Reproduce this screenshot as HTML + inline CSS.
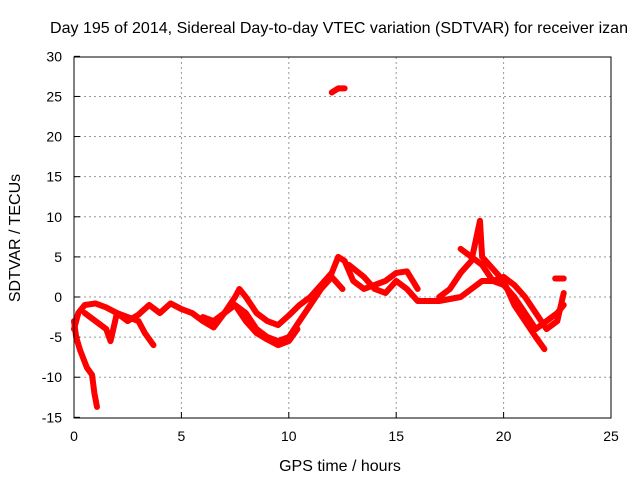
<!DOCTYPE html>
<html><head><meta charset="utf-8"><style>
body{margin:0;background:#fff;}
svg text{font-family:"Liberation Sans",sans-serif;fill:#000;}
</style></head><body>
<svg id="chart" width="640" height="480">
<rect width="640" height="480" fill="#fff"/>
<text x="339" y="33" font-size="16" text-anchor="middle" textLength="578" lengthAdjust="spacingAndGlyphs">Day 195 of 2014, Sidereal Day-to-day VTEC variation (SDTVAR) for receiver izan</text>
<text x="340" y="471" font-size="16" text-anchor="middle">GPS time / hours</text>
<text transform="translate(20,238) rotate(-90)" font-size="16" text-anchor="middle">SDTVAR / TECUs</text>
<g id="grid"></g><g id="ticks"></g><g id="series"></g>
<rect x="74" y="57" width="537" height="361" fill="none" stroke="#000" stroke-width="1"/>
</svg>
<script>
const xTicks=[0,5,10,15,20,25];
const yTicks=[-15,-10,-5,0,5,10,15,20,25,30];
const trackA=[[0,-3],[0.1,-5],[0.28,-6.6],[0.6,-8.8],[0.84,-9.7],[0.95,-12],[1.07,-13.7]];
const trackB=[[0,-4],[0.2,-2],[0.5,-1],[1,-0.8],[1.5,-1.3],[2,-2],[2.5,-3],[3,-2.2],[3.5,-1],[4,-2],[4.5,-0.8],[5,-1.5],[5.5,-2],[6,-3],[6.5,-3.8],[7,-2],[7.5,0],[7.7,1],[8,0],[8.5,-2],[9,-3],[9.5,-3.5],[10,-2.3],[10.5,-1],[11,0],[11.5,1.5],[12,3],[12.3,5],[12.6,4.5],[13,2],[13.5,1],[14,1.5],[14.5,2],[15,3],[15.5,3.2],[16,1]];
const trackC=[[6,-2.5],[6.5,-3],[7,-2],[7.5,-1],[8,-2],[8.5,-4],[9,-5],[9.5,-5.5],[10,-5],[10.5,-3],[11,-1],[11.5,1],[12,2.5],[12.5,1]];
const trackD=[[7.5,-1],[8,-3],[8.5,-4.5],[9,-5.3],[9.5,-6],[10,-5.5],[10.4,-4]];
const trackE=[[0.5,-2],[1,-3],[1.5,-4],[1.7,-5.5],[2,-2],[2.5,-2.5],[3,-3],[3.3,-4.5],[3.7,-6]];
const trackF=[[12.8,4],[13.5,2.5],[14,1],[14.5,0.5],[15,2],[15.5,1],[16,-0.5],[17,-0.5],[18,0],[18.5,1],[19,2],[19.5,2],[20,1.5],[20.5,0],[21,-2],[21.5,-4],[22,-3],[22.5,-2],[22.8,-1]];
const trackG=[[17,0],[17.5,1],[18,3],[18.5,4.5],[18.7,7],[18.9,9.5],[19,5],[19.5,3.5],[20,2],[20.5,-1],[21,-3],[21.5,-5],[21.9,-6.5]];
const trackH=[[18,6],[18.5,5],[19,4],[19.5,2],[20,2.5],[20.5,1.5],[21,0],[21.5,-2],[22,-4],[22.5,-3],[22.8,0.5]];
const trackI=[[12,25.5],[12.3,26],[12.6,26]];
const trackJ=[[22.4,2.3],[22.8,2.3]];
const tracks=[trackA,trackB,trackC,trackD,trackE,trackF,trackG,trackH,trackI,trackJ];
const X=h=>74+h*537/25, Y=v=>297-v*361/45;
const NS="http://www.w3.org/2000/svg";
const grid=document.getElementById('grid'),ticks=document.getElementById('ticks'),ser=document.getElementById('series');
function mk(tag,attrs,parent){const e=document.createElementNS(NS,tag);for(const k in attrs)e.setAttribute(k,attrs[k]);parent.appendChild(e);return e;}
xTicks.forEach(t=>{
 const x=X(t);
 if(t>0&&t<25){const g=mk('line',{x1:x,x2:x,y1:57,y2:418,stroke:'#999','stroke-dasharray':'2,3'},grid);
 
 }
 mk('line',{x1:x,x2:x,y1:418,y2:412,stroke:'#000'},ticks);
 const l=mk('text',{x:x,y:441,'font-size':'14','text-anchor':'middle'},ticks);l.textContent=t;
 
 
});
yTicks.forEach(t=>{
 const y=Y(t);
 if(t>-15&&t<30){const g=mk('line',{x1:74,x2:611,y1:y,y2:y,stroke:'#999','stroke-dasharray':'2,3'},grid);
 
 }
 mk('line',{x1:74,x2:80,y1:y,y2:y,stroke:'#000'},ticks);
 const l=mk('text',{x:62,y:y+5,'font-size':'14','text-anchor':'end'},ticks);l.textContent=t;
 
 
});
tracks.forEach((tr,i)=>{
 const p=mk('polyline',{points:tr.map(d=>X(d[0])+','+Y(d[1])).join(' '),fill:'none',stroke:'#f00','stroke-width':6,'stroke-linejoin':'round','stroke-linecap':'round'},ser);
 
 
});
</script>
</body></html>
